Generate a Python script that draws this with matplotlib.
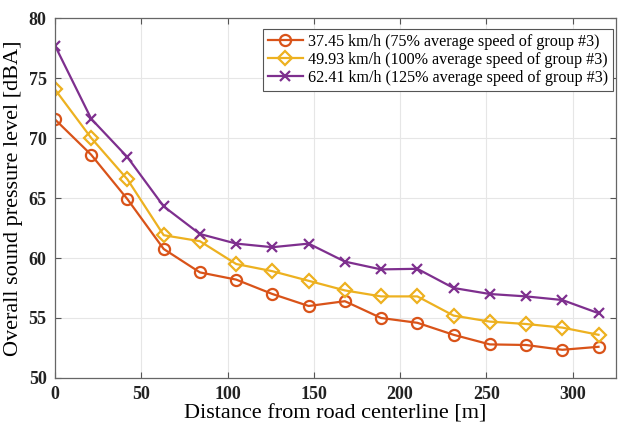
import matplotlib.pyplot as plt

plt.rcParams['font.family'] = ['Liberation Serif', 'DejaVu Serif']

distance = [0, 21, 42, 63, 84, 105, 126, 147, 168, 189, 210, 231, 252, 273, 294, 315]
spl_75 = [71.55, 68.6, 64.9, 60.75, 58.8, 58.2, 57.0, 56.0, 56.4, 55.0, 54.6, 53.6, 52.8, 52.75, 52.35, 52.6]
spl_100 = [74.05, 70.0, 66.55, 61.9, 61.4, 59.5, 58.9, 58.1, 57.3, 56.8, 56.8, 55.2, 54.7, 54.5, 54.2, 53.6]
spl_125 = [77.7, 71.6, 68.4, 64.3, 62.0, 61.2, 60.9, 61.2, 59.7, 59.05, 59.1, 57.5, 57.0, 56.8, 56.5, 55.4]
labels = ['37.45 km/h (75% average speed of group #3)',
          '49.93 km/h (100% average speed of group #3)',
          '62.41 km/h (125% average speed of group #3)']

fig = plt.figure(figsize=(6.22, 4.25), dpi=100)
ax = fig.add_axes([0.0884, 0.1106, 0.9016, 0.847])

ax.plot(distance, spl_75, color='#D95319', lw=1.6, marker='o', ms=8,
        mfc='none', mew=1.6, label=labels[0])
ax.plot(distance, spl_100, color='#EDB120', lw=1.6, marker='D', ms=7,
        mfc='none', mew=1.6, label=labels[1])
ax.plot(distance, spl_125, color='#7E2F8E', lw=1.6, marker='x', ms=7,
        mew=1.6, label=labels[2])

ax.set_xlim(0, 325)
ax.set_ylim(50, 80)
ax.set_xticks([0, 50, 100, 150, 200, 250, 300])
ax.set_yticks([50, 55, 60, 65, 70, 75, 80])
ax.grid(True, color='#e6e6e6', lw=0.8)
ax.set_axisbelow(True)
ax.tick_params(direction='in', top=True, right=True, length=4,
               color='#555555', labelsize=13, pad=6)
for lab in ax.get_xticklabels() + ax.get_yticklabels():
    lab.set_fontweight('bold')
    lab.set_color('#222222')
for sp in ax.spines.values():
    sp.set_color('#666666')
    sp.set_linewidth(0.9)

ax.set_xlabel('Distance from road centerline [m]', fontsize=16, labelpad=1)
ax.set_ylabel('Overall sound pressure level [dBA]', fontsize=16, labelpad=4)

leg = ax.legend(loc='upper right', bbox_to_anchor=(0.995, 0.969), fontsize=11.6,
                fancybox=False, framealpha=1, edgecolor='#555555',
                handlelength=2.2, handletextpad=0.3, borderpad=0.3,
                labelspacing=0.12, borderaxespad=0.0)
leg.get_frame().set_linewidth(0.8)

fig.savefig('out.png', dpi=100)
